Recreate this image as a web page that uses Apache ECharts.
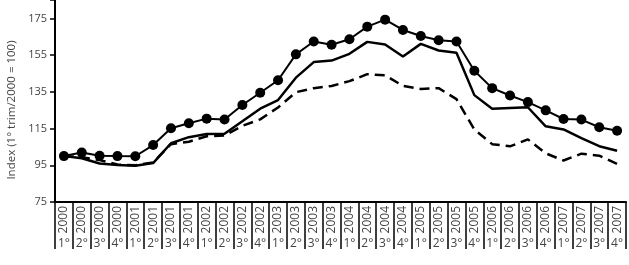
<!DOCTYPE html>
<html>
<head>
<meta charset="utf-8">
<script src="https://cdn.jsdelivr.net/npm/echarts@6/dist/echarts.min.js"></script>
<style>
  html, body { margin: 0; padding: 0; background: #fff; }
  #chart { width: 629px; height: 265px; }
</style>
</head>
<body>
<div id="chart"></div>
<script>
// quarters 2000 1° .. 2007 4°
const years = ['2000','2000','2000','2000','2001','2001','2001','2001',
               '2002','2002','2002','2002','2003','2003','2003','2003',
               '2004','2004','2004','2004','2005','2005','2005','2005',
               '2006','2006','2006','2006','2007','2007','2007','2007'];
const quarters = ['1°','2°','3°','4°','1°','2°','3°','4°',
                  '1°','2°','3°','4°','1°','2°','3°','4°',
                  '1°','2°','3°','4°','1°','2°','3°','4°',
                  '1°','2°','3°','4°','1°','2°','3°','4°'];

// line with dots
const seriesDots = [100.0, 101.9, 100.2, 100.0, 99.9, 106.0, 115.2, 117.9,
                    120.4, 119.9, 127.8, 134.5, 141.3, 155.4, 162.4, 160.6,
                    163.6, 170.5, 174.3, 168.7, 165.4, 163.1, 162.4, 146.5,
                    137.0, 133.0, 129.4, 124.9, 120.2, 119.9, 115.7, 113.8];
// plain solid line
const seriesSolid = [100.0, 98.8, 96.0, 95.2, 94.8, 96.2, 107.0, 110.3,
                     112.0, 112.2, 119.0, 125.8, 130.5, 142.7, 151.2, 152.0,
                     155.7, 162.2, 160.8, 154.2, 161.1, 157.5, 156.3, 133.2,
                     125.8, 126.2, 126.6, 116.2, 114.5, 109.8, 105.4, 102.9];
// dashed line
const seriesDashed = [100.0, 99.4, 97.8, 95.4, 95.0, 96.5, 106.5, 107.8,
                      110.8, 111.2, 116.5, 120.0, 126.5, 134.8, 137.0, 138.2,
                      140.8, 144.6, 144.0, 138.2, 136.5, 137.0, 131.0, 114.5,
                      106.5, 105.3, 109.1, 101.5, 97.6, 101.3, 100.2, 95.8];

const yTicks = {min: 75, max: 185, interval: 20};
const yName = 'Index (1° trim/2000 = 100)';

const fontFam = '"Open Sans", "Noto Sans", sans-serif';
const textCol = '#444';

const chart = echarts.init(document.getElementById('chart'));

const option = {
    animation: false,
    textStyle: {fontFamily: fontFam},
    grid: {left: 55, right: 3, top: -2, bottom: 63},
    graphic: [{
        type: 'text',
        x: 12,
        y: 110,
        rotation: Math.PI / 2,
        style: {
            text: yName,
            fill: textCol,
            font: '11.5px ' + fontFam,
            textAlign: 'center',
            textVerticalAlign: 'middle'
        }
    }],
    xAxis: [{
        type: 'category',
        data: years,
        position: 'bottom',
        boundaryGap: true,
        axisLine: {lineStyle: {color: '#000', width: 2}},
        axisTick: {show: true, interval: 0, length: 47, lineStyle: {color: '#000', width: 1.5}},
        axisLabel: {interval: 0, rotate: 90, margin: 4, fontSize: 12, color: textCol, fontFamily: fontFam},
        splitLine: {show: false}
    }, {
        type: 'category',
        data: quarters,
        position: 'bottom',
        offset: 0,
        boundaryGap: true,
        axisLine: {show: false},
        axisTick: {show: false},
        axisLabel: {interval: 0, margin: 36, fontSize: 12, color: textCol, fontFamily: fontFam},
        splitLine: {show: false}
    }],
    yAxis: {
        type: 'value',
        min: yTicks.min,
        max: yTicks.max,
        interval: yTicks.interval,
        axisLine: {show: true, lineStyle: {color: '#000', width: 2}},
        axisTick: {show: true, length: 5, lineStyle: {color: '#000', width: 1.5}},
        axisLabel: {
            margin: 8, fontSize: 11, color: textCol, fontFamily: fontFam,
            formatter: v => (v > 175 ? '' : String(v))
        },
        splitLine: {show: false}
    },
    series: [{
        type: 'line',
        data: seriesDashed,
        symbol: 'none',
        lineStyle: {color: '#000', width: 2.5, type: [10, 6]}
    }, {
        type: 'line',
        data: seriesSolid,
        symbol: 'none',
        lineStyle: {color: '#000', width: 2.5}
    }, {
        type: 'line',
        data: seriesDots,
        symbol: 'circle',
        symbolSize: 10,
        itemStyle: {color: '#000'},
        lineStyle: {color: '#000', width: 2}
    }]
};

chart.setOption(option);
</script>
</body>
</html>
